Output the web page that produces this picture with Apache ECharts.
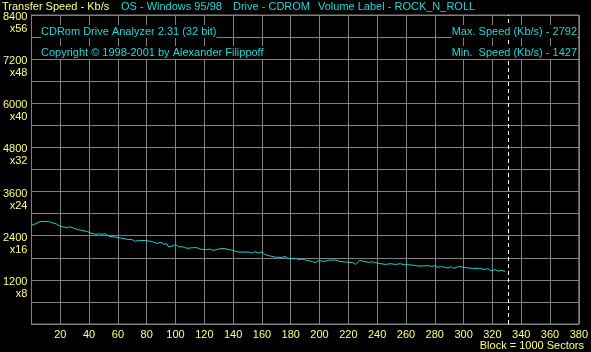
<!DOCTYPE html>
<html>
<head>
<meta charset="utf-8">
<script src="https://cdn.jsdelivr.net/npm/echarts@6/dist/echarts.min.js"></script>
<style>
html,body{margin:0;padding:0;background:#000;}
#c{width:591px;height:352px;}
</style>
</head>
<body>
<div id="c"></div>
<script>
// Block numbers (x 1000 sectors)
const blocks = [0, 3, 6, 9, 12, 14, 17, 19, 22, 25, 27, 29, 32, 35, 39, 42, 45, 47, 49, 51,
  54, 58, 62, 66, 70, 72, 75, 80, 84, 87, 90, 92, 94, 95, 98, 100, 102, 106, 108, 112,
  115, 117, 121, 124, 126, 130, 133, 139, 144, 151, 153, 155, 158, 160, 162, 166, 169, 174, 176, 178,
  184, 186, 188, 191, 195, 197, 199, 203, 207, 211, 214, 218, 223, 225, 228, 229, 234, 236, 238, 241,
  246, 249, 253, 256, 259, 260, 262, 266, 269, 276, 278, 280, 282, 284, 287, 289, 291, 293, 297, 300,
  306, 311, 315, 317, 319, 322, 324, 326, 329];
// Transfer speed (Kb/s)
const speeds = [2682, 2728, 2783, 2792, 2783, 2755, 2728, 2674, 2636, 2619, 2646, 2609, 2565, 2546, 2510, 2464, 2437, 2456, 2437, 2456,
  2383, 2364, 2337, 2305, 2292, 2247, 2274, 2265, 2238, 2192, 2219, 2165, 2184, 2102, 2119, 2157, 2102, 2092, 2056, 2075,
  2075, 2037, 2020, 2037, 2001, 2037, 2056, 2010, 1955, 1955, 1928, 1966, 1928, 1966, 1892, 1846, 1819, 1811, 1838, 1784,
  1775, 1748, 1765, 1729, 1702, 1666, 1721, 1702, 1738, 1738, 1702, 1683, 1675, 1620, 1729, 1675, 1675, 1693, 1675, 1647,
  1620, 1639, 1620, 1639, 1612, 1647, 1612, 1593, 1574, 1585, 1566, 1585, 1539, 1566, 1539, 1521, 1557, 1512, 1566, 1539,
  1512, 1512, 1484, 1503, 1448, 1476, 1439, 1457, 1427];
const discEnd = 331;
const yTop = 8400, yStep = 600, yLabelStep = 1200, xMax = 380, xStep = 20;

const headerTexts = [
  {text: 'Transfer Speed - Kb/s', x: 2, color: '#ffff80'},
  {text: 'OS - Windows 95/98', x: 121, color: '#20d8d8'},
  {text: 'Drive - CDROM', x: 233, color: '#20d8d8'},
  {text: 'Volume Label - ROCK_N_ROLL', x: 318, color: '#20d8d8'}
];
const infoLeft = ['CDRom Drive Analyzer 2.31 (32 bit)', 'Copyright \u00A9 1998-2001 by Alexander Filippoff'];
const infoRight = ['Max. Speed (Kb/s) - 2792', 'Min.  Speed (Kb/s) - 1427'];

const FONT = 'Liberation Sans, Arial, sans-serif';
const cyan = '#20d8d8';
const yellow = '#ffff80';

const chart = echarts.init(document.getElementById('c'));
const graphics = [];
headerTexts.forEach(h => graphics.push({type:'text', left:h.x, top:1, z:10,
  style:{text:h.text, fill:h.color, font:'11px ' + FONT}}));
infoLeft.forEach((t,i) => graphics.push({type:'text', x:41, y:25 + i*21, z:10,
  style:{text:t, fill:cyan, font:'11px ' + FONT, backgroundColor:'#000', padding:[1,0,1,0]}}));
infoRight.forEach((t,i) => graphics.push({type:'text', x:577, y:25 + i*21, z:10,
  style:{text:t, fill:cyan, font:'11px ' + FONT, align:'right', backgroundColor:'#000', padding:[1,0,1,0]}}));
graphics.push({type:'text', right:7, top:340, z:10,
  style:{text:'Block = 1000 Sectors', fill:yellow, font:'11px ' + FONT}});

chart.setOption({
  backgroundColor: '#000',
  animation: false,
  grid: {left: 30, right: 10, top: 15, bottom: 28, show: true, borderColor: '#808080', borderWidth: 1, backgroundColor:'transparent'},
  graphic: graphics,
  xAxis: {
    type: 'value', min: 0, max: xMax, interval: xStep,
    axisLine: {show: true, lineStyle: {color: '#808080'}},
    axisTick: {show: false},
    splitLine: {show: true, lineStyle: {color: '#808080', width: 1}},
    axisLabel: {color: yellow, fontFamily: FONT, fontSize: 11, margin: 5,
      formatter: v => v === 0 ? '' : String(v)}
  },
  yAxis: {
    type: 'value', min: 0, max: yTop + 1, interval: yStep,
    axisLine: {show: true, lineStyle: {color: '#808080'}},
    axisTick: {show: false},
    splitLine: {show: true, lineStyle: {color: '#808080', width: 1}},
    axisLabel: {color: yellow, fontFamily: FONT, fontSize: 11, margin: 4,
      verticalAlign: 'top',
      rich: {
        a: {color: yellow, fontFamily: FONT, fontSize: 11, lineHeight: 4, align: 'right'},
        b: {color: yellow, fontFamily: FONT, fontSize: 11, lineHeight: 20, align: 'right'}
      },
      formatter: v => (v === 0 || v % yLabelStep !== 0) ? '' : '{a|' + v + '}\n{b|x' + (v / 150) + '}'}
  },
  series: [{
    type: 'line',
    data: blocks.map((b, i) => [b, speeds[i]]),
    showSymbol: false,
    lineStyle: {color: '#1ad2d2', width: 1},
    z: 5,
    markLine: {
      silent: true, symbol: 'none', label: {show: false},
      lineStyle: {color: '#ffffff', type: [4, 3], width: 1},
      data: [{xAxis: discEnd}]
    }
  }]
});
</script>
</body>
</html>
